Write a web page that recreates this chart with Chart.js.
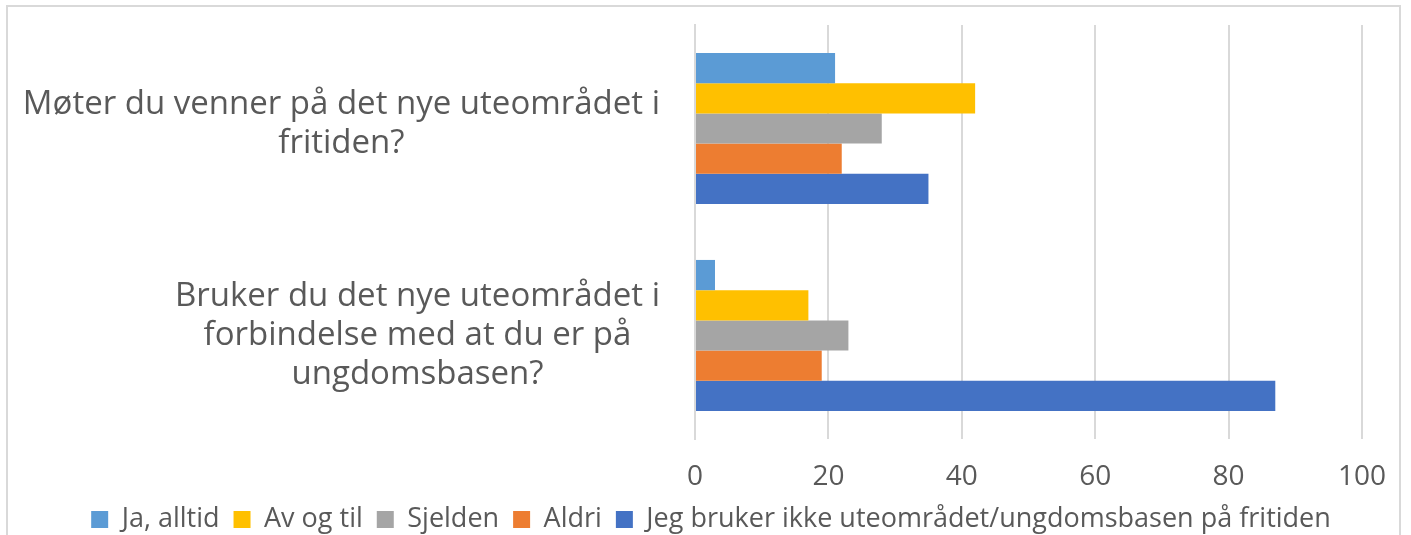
<!DOCTYPE html>
<html>
<head>
<meta charset="utf-8">
<script src="https://cdn.jsdelivr.net/npm/chart.js@4"></script>
<style>
  html, body { margin: 0; padding: 0; background: #fff; overflow: hidden; }
  #frame {
    position: absolute; left: 6px; top: 5px; width: 1395px; height: 560px;
    border: 2px solid #d9d9d9; box-sizing: border-box;
  }
  #wrap { position: absolute; left: 0; top: 0; width: 1411px; height: 535px; }
</style>
</head>
<body>
<div id="frame"></div>
<div id="wrap"><canvas id="c"></canvas></div>
<script>
  // Category labels (each line of the wrapped question)
  const categories = [
    ['Møter du venner på det nye uteområdet i', 'fritiden?'],
    ['Bruker du det nye uteområdet i', 'forbindelse med at du er på', 'ungdomsbasen?'],
  ];

  const seriesNames = [
    'Ja, alltid',
    'Av og til',
    'Sjelden',
    'Aldri',
    'Jeg bruker ikke uteområdet/ungdomsbasen på fritiden',
  ];

  const jaAlltid = [21, 3];
  const avOgTil = [42, 17];
  const sjelden = [28, 23];
  const aldri = [22, 19];
  const brukerIkke = [35, 87];

  const xTicks = [0, 20, 40, 60, 80, 100];

  const COLORS = ['#5B9BD5', '#FFC000', '#A5A5A5', '#ED7D31', '#4472C4'];
  const TEXT = '#595959';
  const GRID = '#d9d9d9';
  const FONT = "'Open Sans', sans-serif";

  const seriesValues = [jaAlltid, avOgTil, sjelden, aldri, brukerIkke];

  // Draws the wrapped category labels: lines centred on each other,
  // the whole block right-aligned against the plot area.
  const categoryLabels = {
    id: 'categoryLabels',
    afterDraw(chart) {
      const ctx = chart.ctx;
      const y = chart.scales.y;
      const size = 33;
      const lineH = 39;
      const right = chart.chartArea.left - 35;
      ctx.save();
      ctx.font = size + 'px ' + FONT;
      ctx.fillStyle = TEXT;
      ctx.textAlign = 'center';
      ctx.textBaseline = 'middle';
      categories.forEach((lines, i) => {
        const w = Math.max(...lines.map((l) => ctx.measureText(l).width));
        const cx = right - w / 2;
        const cy = y.getPixelForValue(i) - (lines.length === 2 ? 4 : 0);
        const top = cy - (lines.length - 1) * lineH / 2;
        lines.forEach((l, k) => ctx.fillText(l, cx, top + k * lineH));
      });
      ctx.restore();
    },
  };

  new Chart(document.getElementById('c'), {
    type: 'bar',
    data: {
      labels: categories.map((l) => l.join(' ')),
      datasets: seriesNames.map((name, i) => ({
        label: name,
        data: seriesValues[i],
        backgroundColor: COLORS[i],
        borderWidth: 0,
        categoryPercentage: 0.73,
        barPercentage: 1.0,
      })),
    },
    options: {
      indexAxis: 'y',
      responsive: true,
      maintainAspectRatio: false,
      animation: false,
      layout: { padding: { top: 25, right: 49, bottom: -8, left: 60 } },
      plugins: {
        tooltip: { enabled: false },
        legend: {
          position: 'bottom',
          labels: {
            color: TEXT,
            font: { family: FONT, size: 27 },
            boxWidth: 17,
            boxHeight: 17,
            padding: 14,
          },
        },
      },
      scales: {
        x: {
          min: 0,
          max: 100,
          afterBuildTicks: (scale) => { scale.ticks = xTicks.map((v) => ({ value: v })); },
          grid: { color: GRID, lineWidth: 2, drawTicks: false },
          border: { display: false },
          ticks: { color: TEXT, font: { family: FONT, size: 28 }, padding: 21 },
          afterFit: (scale) => { scale.height = 53; },
        },
        y: {
          grid: { display: false },
          border: { color: GRID, width: 2 },
          ticks: { display: false },
          afterFit: (scale) => { scale.width = 635; },
        },
      },
    },
    plugins: [categoryLabels],
  });
</script>
</body>
</html>
